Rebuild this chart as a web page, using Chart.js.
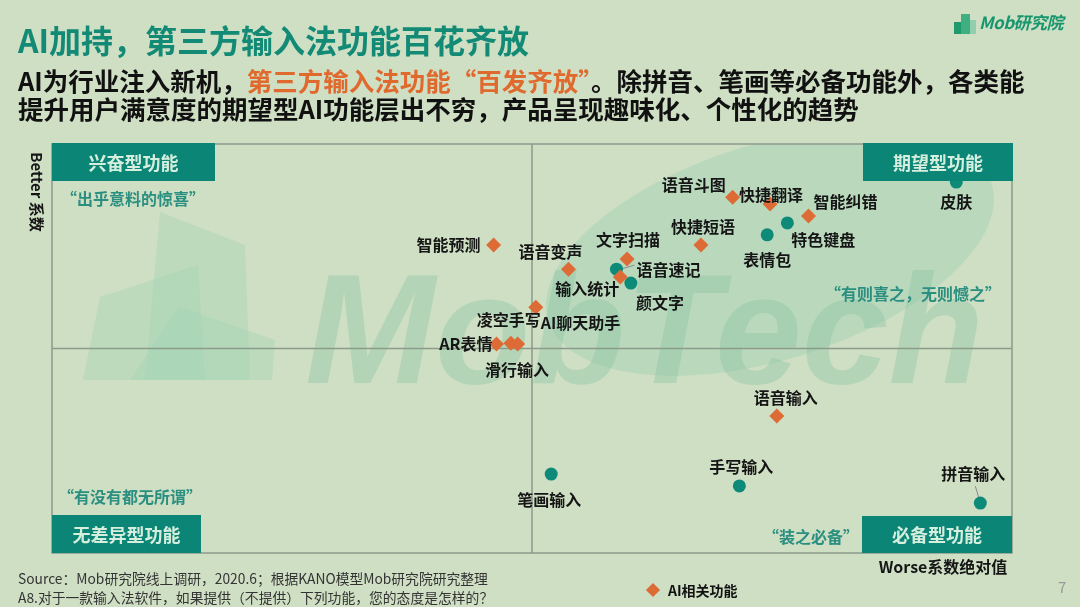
<!DOCTYPE html>
<html>
<head>
<meta charset="utf-8">
<title>AI加持，第三方输入法功能百花齐放</title>
<script src="https://cdn.jsdelivr.net/npm/chart.js"></script>
<style>
    body { margin: 0; background: #cfdfc4; font-family: "Noto Sans CJK SC", "Microsoft YaHei", sans-serif; }
    #page { position: relative; width: 1080px; height: 607px; overflow: hidden; }
    #chartWrap { position: absolute; left: 0; top: 0; width: 1080px; height: 607px; }
    .abs { position: absolute; white-space: nowrap; line-height: 1; }
    .title { left: 18px; top: 23px; font-size: 32px; font-weight: 700; color: #128a76; }
    .sub { left: 18px; font-size: 25.5px; font-weight: 700; color: #111; }
    .sub .hl { color: #e0692e; }
    .src { left: 18px; font-size: 13.8px; color: #333; }
    .legend { left: 648px; top: 583px; font-size: 14px; font-weight: 700; color: #111; }
    .legend i { display: inline-block; width: 10px; height: 10px; background: #dd6b36; transform: rotate(45deg); margin-right: 10px; vertical-align: 1px; }
    .pnum { left: 1058px; top: 579px; font-size: 15px; color: #999; }
    .logo { left: 950px; top: 8px; width: 120px; height: 30px; }
    .logo .b { position: absolute; bottom: 4px; }
    .logo span { position: absolute; left: 29px; top: 5px; font-size: 17px; font-weight: 700; font-style: italic; color: #17966e; letter-spacing: -0.5px; }
</style>
</head>
<body>
<div id="page">
    <div id="chartWrap"><canvas id="kanoChart" width="1080" height="607"></canvas></div>

    <div class="abs title">AI加持，第三方输入法功能百花齐放</div>
    <div class="abs sub" style="top:67px">AI为行业注入新机，<span class="hl">第三方输入法功能“百发齐放”</span>。除拼音、笔画等必备功能外，各类能</div>
    <div class="abs sub" style="top:95px">提升用户满意度的期望型AI功能层出不穷，产品呈现趣味化、个性化的趋势</div>

    <div class="abs logo">
        <div class="b" style="left:4px;width:7px;height:12px;background:#1f9a6c"></div>
        <div class="b" style="left:11px;width:9px;height:20px;background:#3fae80"></div>
        <div class="b" style="left:20px;width:6px;height:14px;background:#8fcfae"></div>
        <span>Mob研究院</span>
    </div>

    <div class="abs src" style="top:572px">Source：Mob研究院线上调研，2020.6；根据KANO模型Mob研究院研究整理</div>
    <div class="abs src" style="top:591px">A8.对于一款输入法软件，如果提供（不提供）下列功能，您的态度是怎样的？</div>
    <div class="abs legend"><i></i>AI相关功能</div>
    <div class="abs pnum">7</div>
</div>

<script>
    // AI related features (orange diamonds): Worse |abs| vs Better, in % of the plot span
    const aiNames  = ['智能预测', '语音变声', '文字扫描', '输入统计', '凌空手写', 'AR表情', '滑行输入', 'AI聊天助手',
                      '语音斗图', '快捷翻译', '智能纠错', '快捷短语', '语音输入'];
    const aiWorse  = [46.0, 53.8, 59.9, 59.2, 50.4, 46.3, 47.8, 48.5, 70.9, 74.8, 78.8, 67.6, 75.5];
    const aiBetter = [75.3, 69.4, 71.9, 67.5, 60.1, 51.1, 51.3, 51.1, 87.0, 85.3, 82.4, 75.3, 33.5];

    // other features (teal dots)
    const baseNames  = ['语音速记', '颜文字', '特色键盘', '表情包', '皮肤', '笔画输入', '手写输入', '拼音输入'];
    const baseWorse  = [58.8, 60.3, 76.6, 74.5, 94.2, 52.0, 71.6, 96.7];
    const baseBetter = [69.4, 66.0, 80.7, 77.8, 90.7, 19.3, 16.4, 12.2];

    // quadrant captions
    const quadTitles = ['兴奋型功能', '期望型功能', '无差异型功能', '必备型功能'];
    const quadQuotes = ['“出乎意料的惊喜”', '“有则喜之，无则憾之”', '“有没有都无所谓”', '“装之必备”'];

    // where each label sits relative to its mark: [dx, dy, align]
    const labelPlace = {
        '智能预测': [-13, 0, 'right'], '语音变声': [-18, -17, 'center'], '文字扫描': [1, -19, 'center'],
        '输入统计': [-33, 12, 'center'], '凌空手写': [-27, 13, 'center'], 'AR表情': [-4, 0, 'right'],
        '滑行输入': [6, 27, 'center'], 'AI聊天助手': [63, -21, 'center'], '语音斗图': [-39, -12, 'center'],
        '快捷翻译': [1, -9, 'center'], '智能纠错': [37, -14, 'center'], '快捷短语': [2, -18, 'center'],
        '语音输入': [9, -18, 'center'], '语音速记': [20, 1, 'left'], '颜文字': [29, 20, 'center'],
        '特色键盘': [36, 17, 'center'], '表情包': [0, 25, 'center'], '皮肤': [0, 20, 'center'],
        '笔画输入': [-2, 26, 'center'], '手写输入': [2, -19, 'center'], '拼音输入': [-7, -29, 'center']
    };

    const CJK = '"Noto Sans CJK SC", "Microsoft YaHei", sans-serif';

    const kanoPlugin = {
        id: 'kano',
        beforeDatasetsDraw(chart) {
            const { ctx, chartArea: a, scales: { x, y } } = chart;
            ctx.save();
            ctx.beginPath();
            ctx.rect(a.left, a.top, a.right - a.left, a.bottom - a.top);
            ctx.clip();

            // faint Mob logo watermark
            ctx.fillStyle = 'rgba(160, 210, 180, 0.38)';
            [[[160, 212], [245, 245], [250, 380], [145, 380]],
             [[100, 297], [198, 265], [205, 380], [83, 380]],
             [[179, 307], [275, 340], [272, 380], [130, 380]]].forEach(poly => {
                ctx.beginPath();
                poly.forEach((p, i) => i ? ctx.lineTo(p[0], p[1]) : ctx.moveTo(p[0], p[1]));
                ctx.closePath();
                ctx.fill();
            });
            ctx.fillStyle = 'rgba(150, 205, 175, 0.38)';
            ctx.beginPath();
            ctx.ellipse(770, 252, 232, 108, -0.3, 0, Math.PI * 2);
            ctx.fill();
            ctx.fillStyle = 'rgba(135, 195, 160, 0.38)';
            ctx.font = 'italic bold 156px "Liberation Sans", Arial, sans-serif';
            ctx.textBaseline = 'alphabetic';
            ctx.textAlign = 'left';
            ctx.fillText('MobTech', 305, 383);
            ctx.restore();

            // frame and quadrant lines
            ctx.save();
            ctx.strokeStyle = '#8c9a8a';
            ctx.lineWidth = 1.5;
            ctx.strokeRect(a.left, a.top, a.right - a.left, a.bottom - a.top);
            const cx = x.getPixelForValue(50), cy = y.getPixelForValue(50);
            ctx.beginPath();
            ctx.moveTo(cx, a.top); ctx.lineTo(cx, a.bottom);
            ctx.moveTo(a.left, cy); ctx.lineTo(a.right, cy);
            ctx.stroke();

            // leader lines
            ctx.strokeStyle = '#8a8a8a';
            ctx.lineWidth = 1;
            const ld = (name, dset, names, x1, y1, x2, y2) => {
                const i = names.indexOf(name);
                const el = chart.getDatasetMeta(dset).data[i];
                ctx.beginPath();
                ctx.moveTo(el.x + x1, el.y + y1);
                ctx.lineTo(el.x + x2, el.y + y2);
                ctx.stroke();
            };
            ld('语音速记', 1, baseNames, 4, 0, 18, -4);
            ld('拼音输入', 1, baseNames, 0, 0, -5, -17);
            ctx.restore();
        },
        afterDatasetsDraw(chart) {
            const { ctx } = chart;
            ctx.save();
            ctx.font = 'bold 16px ' + CJK;
            ctx.fillStyle = '#151515';
            ctx.textBaseline = 'middle';
            chart.data.datasets.forEach((ds, di) => {
                chart.getDatasetMeta(di).data.forEach((el, i) => {
                    const name = ds.data[i].name;
                    const [dx, dy, align] = labelPlace[name];
                    ctx.textAlign = align;
                    ctx.fillText(name, el.x + dx, el.y + dy);
                });
            });
            ctx.restore();
        },
        afterDraw(chart) {
            const { ctx, chartArea: a } = chart;
            ctx.save();
            // quadrant title boxes
            const boxes = [
                [a.left, a.top - 1, 163, 38],
                [a.right - 149, a.top - 1, 150, 38],
                [a.left, a.bottom - 38, 149, 38],
                [a.right - 150, a.bottom - 37, 150, 37]
            ];
            ctx.textAlign = 'center';
            ctx.textBaseline = 'middle';
            boxes.forEach((b, i) => {
                ctx.fillStyle = '#0a8576';
                ctx.fillRect(b[0], b[1], b[2], b[3]);
                ctx.fillStyle = '#d6eedd';
                ctx.font = 'bold 18px ' + CJK;
                ctx.fillText(quadTitles[i], b[0] + b[2] / 2, b[1] + b[3] / 2 + 1);
            });
            // quadrant quotes
            ctx.fillStyle = '#2a8f80';
            ctx.font = 'bold 16px ' + CJK;
            const quotePos = [[133, 199], [913, 294], [130, 497], [811, 537]];
            quadQuotes.forEach((q, i) => ctx.fillText(q, quotePos[i][0], quotePos[i][1]));

            // axis titles
            ctx.fillStyle = '#151515';
            ctx.font = 'bold 16px ' + CJK;
            ctx.fillText('Worse系数绝对值', 943, 567);
            ctx.translate(37, 192);
            ctx.rotate(Math.PI / 2);
            ctx.font = 'bold 15px ' + CJK;
            ctx.fillText('Better 系数', 0, 0);
            ctx.restore();
        }
    };

    function initChart() {
        new Chart(document.getElementById('kanoChart'), {
            type: 'scatter',
            data: {
                datasets: [{
                    label: 'AI相关功能',
                    data: aiNames.map((n, i) => ({ x: aiWorse[i], y: aiBetter[i], name: n })),
                    pointStyle: 'rectRot',
                    pointRadius: 7.5,
                    backgroundColor: '#dd6b36',
                    borderWidth: 0
                }, {
                    label: '其他功能',
                    data: baseNames.map((n, i) => ({ x: baseWorse[i], y: baseBetter[i], name: n })),
                    pointStyle: 'circle',
                    pointRadius: 6.5,
                    backgroundColor: '#0e8a78',
                    borderWidth: 0
                }]
            },
            options: {
                responsive: false,
                animation: false,
                layout: { padding: { left: 52, top: 144, right: 68, bottom: 54 } },
                scales: {
                    x: { type: 'linear', min: 0, max: 100, display: false },
                    y: { type: 'linear', min: 0, max: 100, display: false }
                },
                plugins: { legend: { display: false }, tooltip: { enabled: false } }
            },
            plugins: [kanoPlugin]
        });
    }

    initChart();
</script>
</body>
</html>
